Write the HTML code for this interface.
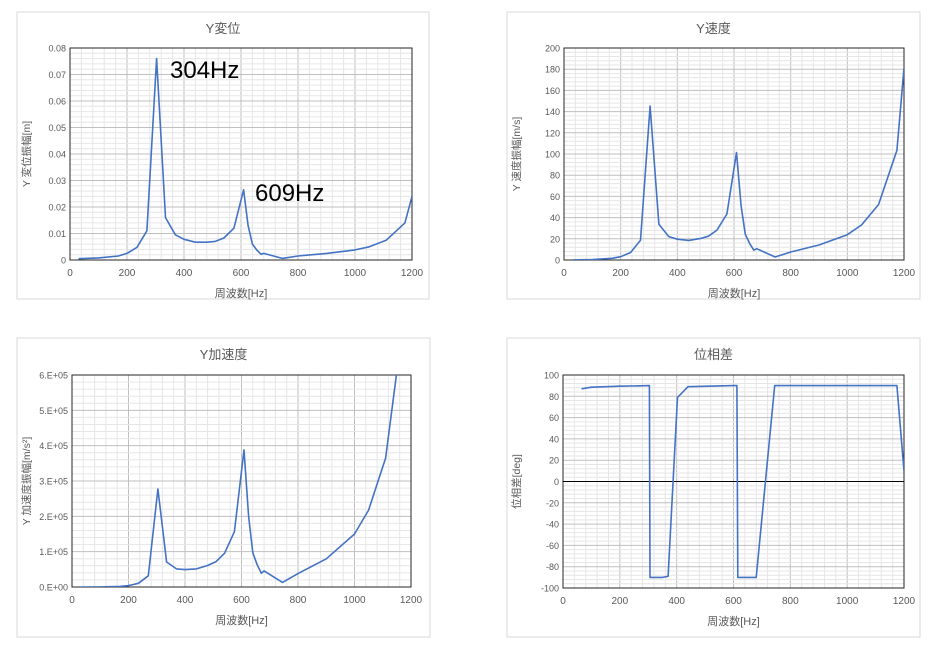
<!DOCTYPE html>
<html><head><meta charset="utf-8">
<style>
body{margin:0;background:#fff;width:932px;height:648px;overflow:hidden}
svg{position:absolute;left:0;top:0}
text{font-family:"Liberation Sans","Noto Sans CJK JP",sans-serif}
</style></head><body>
<svg id="s" width="932" height="648" xmlns="http://www.w3.org/2000/svg"></svg>
<script>
const S=document.getElementById('s');let h='';
const D=[[30,0.0005],[100,0.0008],[170,0.0015],[200,0.0025],[235,0.0048],[270,0.011],[304,0.076],[335,0.016],[370,0.0095],[400,0.0078],[440,0.0067],[480,0.0067],[510,0.007],[540,0.0083],[575,0.012],[609,0.0265],[625,0.013],[640,0.006],[655,0.0038],[670,0.0022],[680,0.0025],[745,0.0006],[800,0.0015],[900,0.0025],[1000,0.0038],[1050,0.005],[1110,0.0075],[1175,0.014],[1200,0.024]];
const V=D.map(p=>[p[0],p[1]*2*Math.PI*p[0]]);
const A=D.map(p=>[p[0],p[1]*Math.pow(2*Math.PI*p[0],2)]);
const P=[[65,87],[100,88.5],[200,89.5],[304,90],[306,-90],[350,-90],[370,-89],[403,79],[440,89],[600,90],[612,90],[615,-90],[680,-90],[745,90],[1175,90],[1200,10]];
function chart(o){
 const {bx,by,bw,bh,px,py,pw,ph,ymin,ymax,ystep,yminor,fmt,title,ylab,data,zero}=o;
 h+=`<rect x="${bx}" y="${by}" width="${bw}" height="${bh}" fill="#fff" stroke="#d9d9d9"/>`;
 h+=`<text x="${bx+bw/2}" y="${by+21}" font-size="13" fill="#595959" text-anchor="middle">${title}</text>`;
 const X=f=>px+f/1200*pw, Y=v=>py+ph-(v-ymin)/(ymax-ymin)*ph;
 for(let f=0;f<=1200;f+=40) h+=`<line x1="${X(f)}" x2="${X(f)}" y1="${py}" y2="${py+ph}" stroke="${f%200?'#e6e6e6':'#bfbfbf'}"/>`;
 for(let v=ymin;v<=ymax+1e-9;v+=yminor){const maj=Math.abs(Math.round((v-ymin)/ystep)*ystep-(v-ymin))<1e-9*ystep*1e3;h+=`<line x1="${px}" x2="${px+pw}" y1="${Y(v)}" y2="${Y(v)}" stroke="${maj?'#bfbfbf':'#e6e6e6'}"/>`;}
 for(let f=0;f<=1200;f+=200) h+=`<text x="${X(f)}" y="${py+ph+16}" font-size="10" fill="#595959" text-anchor="middle">${f}</text>`;
 const n=Math.round((ymax-ymin)/ystep);
 for(let i=0;i<=n;i++){const v=ymin+i*ystep;h+=`<text x="${px-4}" y="${Y(v)+3.5}" font-size="9" fill="#595959" text-anchor="end">${fmt(v)}</text>`;}
 h+=`<rect x="${px}" y="${py}" width="${pw}" height="${ph}" fill="none" stroke="#262626" stroke-width="1"/>`;
 if(zero) h+=`<line x1="${px}" x2="${px+pw}" y1="${Y(0)}" y2="${Y(0)}" stroke="#000"/>`;
 h+=`<text x="${px+pw/2}" y="${py+ph+37}" font-size="11" fill="#595959" text-anchor="middle">周波数[Hz]</text>`;
 h+=`<text transform="translate(${bx+13},${py+ph/2}) rotate(-90)" font-size="10.5" fill="#595959" text-anchor="middle">${ylab}</text>`;
 h+=`<clipPath id="c${px}${py}"><rect x="${px}" y="${py}" width="${pw}" height="${ph}"/></clipPath>`;
 h+=`<polyline clip-path="url(#c${px}${py})" fill="none" stroke="#4472c4" stroke-width="1.6" stroke-linejoin="round" points="${data.map(p=>X(p[0]).toFixed(1)+','+Y(p[1]).toFixed(1)).join(' ')}"/>`;
}
chart({bx:17,by:12,bw:412,bh:287,px:70,py:48,pw:342,ph:212,ymin:0,ymax:0.08,ystep:0.01,yminor:0.002,fmt:v=>v==0?'0':v.toFixed(2),title:'Y変位',ylab:'Y 変位振幅[m]',data:D});
chart({bx:507,by:12,bw:413,bh:287,px:564,py:48,pw:340,ph:212,ymin:0,ymax:200,ystep:20,yminor:4,fmt:v=>Math.round(v),title:'Y速度',ylab:'Y 速度振幅[m/s]',data:V});
chart({bx:17,by:338,bw:413,bh:299,px:72,py:375,pw:339,ph:212,ymin:0,ymax:600000,ystep:100000,yminor:20000,fmt:v=>Math.round(v/1e5)+'.E+0'+(v==0?'0':'5'),title:'Y加速度',ylab:'Y 加速度振幅[m/s²]',data:A});
chart({bx:507,by:338,bw:413,bh:299,px:563,py:375,pw:341,ph:213,ymin:-100,ymax:100,ystep:20,yminor:4,fmt:v=>Math.round(v),title:'位相差',ylab:'位相差[deg]',data:P,zero:true});
h+=`<text x="170" y="78" font-size="24" fill="#000">304Hz</text><text x="255" y="201" font-size="24" fill="#000">609Hz</text>`;
S.innerHTML=h;
</script>
</body></html>
